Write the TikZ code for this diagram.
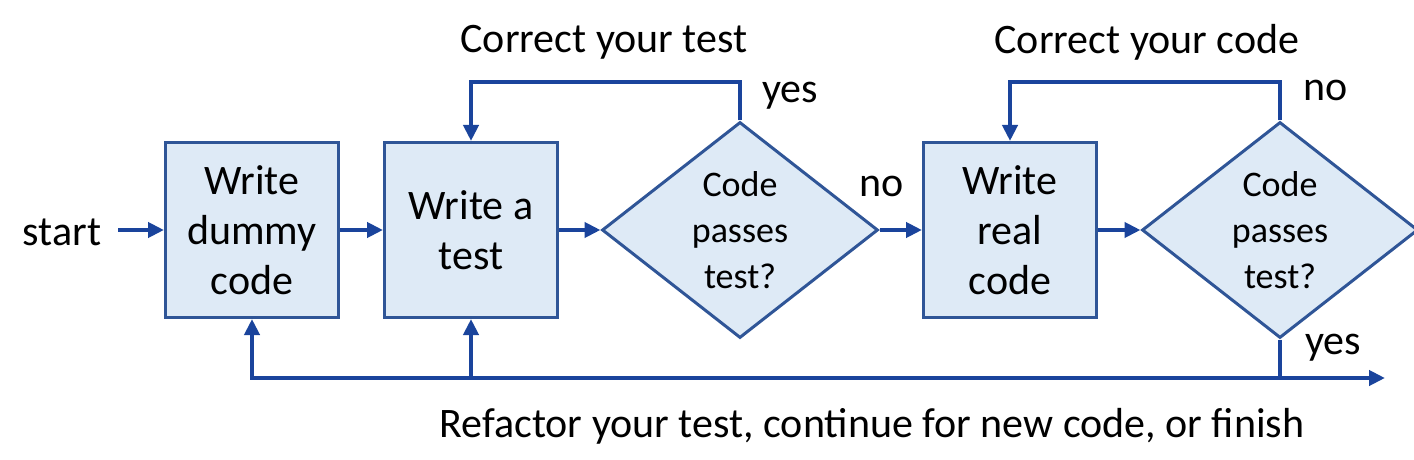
\documentclass[tikz,border=0pt]{standalone}
\usepackage{fontspec}
\setmainfont{Carlito}
\usetikzlibrary{shapes.geometric,arrows.meta}
\definecolor{flowblue}{HTML}{1A449C}
\definecolor{edgeblue}{HTML}{2F5597}
\definecolor{boxfill}{HTML}{DEEAF6}

\tikzset{
  box/.style={draw=edgeblue, fill=boxfill, line width=1.5pt, minimum width=86.5pt,
    minimum height=87.5pt, inner sep=0pt, align=center, font=\fontsize{21}{25}\selectfont},
  decision/.style={diamond, draw=edgeblue, fill=boxfill, line width=1.5pt, aspect=1.28,
    minimum width=138pt, minimum height=108pt, inner sep=0pt, align=center,
    font=\fontsize{18}{23}\selectfont},
  flow/.style={draw=flowblue, line width=2.2pt, -{Triangle[length=8pt,width=7.5pt]}},
  plain/.style={draw=flowblue, line width=2.2pt},
  lbl/.style={font=\fontsize{21}{24}\selectfont, inner sep=0pt}
}

\begin{document}
\begin{tikzpicture}[x=0.5pt,y=-0.5pt]
  \useasboundingbox (0,0) rectangle (1414,460);

  % boxes and decisions
  \node[box] (dummy) at (252,230) {Write\\dummy\\code};
  \node[box] (test) at (471,230) {Write a\\test};
  \node[decision] (check1) at (740,230) {Code\\passes\\test?};
  \node[box] (real) at (1010,230) {Write\\real\\code};
  \node[decision] (check2) at (1280,230) {Code\\passes\\test?};

  % labels
  \node[lbl] (start) at (62,232) {start};
  \node[lbl] (fixtest) at (604,42) {Correct your test};
  \node[lbl] (fixcode) at (1147,42) {Correct your code};
  \node[lbl] (yes1) at (790,96) {yes};
  \node[lbl] (no1) at (882,186) {no};
  \node[lbl] (no2) at (1326,90) {no};
  \node[lbl] (yes2) at (1333,348) {yes};
  \node[lbl] (refactor) at (872,426) {Refactor your test, continue for new code, or finish};

  % corner points
  \coordinate (s0) at (118,230);
  \coordinate (t1) at (740,82);
  \coordinate (t2) at (471,82);
  \coordinate (c1) at (1280,82);
  \coordinate (c2) at (1010,82);
  \coordinate (b0) at (1280,378);
  \coordinate (b1) at (471,378);
  \coordinate (b2) at (252,378);
  \coordinate (bend) at (1385,378);

  % main flow
  \draw[flow] (s0) -- (dummy.west);
  \draw[flow] (dummy.east) -- (test.west);
  \draw[flow] (test.east) -- (check1.west);
  \draw[flow] (check1.east) -- (real.west);
  \draw[flow] (real.east) -- (check2.west);

  % loops back
  \draw[flow] (check1.north) -- (t1) -- (t2) -- (test.north);
  \draw[flow] (check2.north) -- (c1) -- (c2) -- (real.north);
  \draw[plain] (check2.south) -- (b0);
  \draw[flow] (b0) -- (bend);
  \draw[flow] (b0) -- (b2) -- (dummy.south);
  \draw[flow] (b1) -- (test.south);
\end{tikzpicture}
\end{document}
